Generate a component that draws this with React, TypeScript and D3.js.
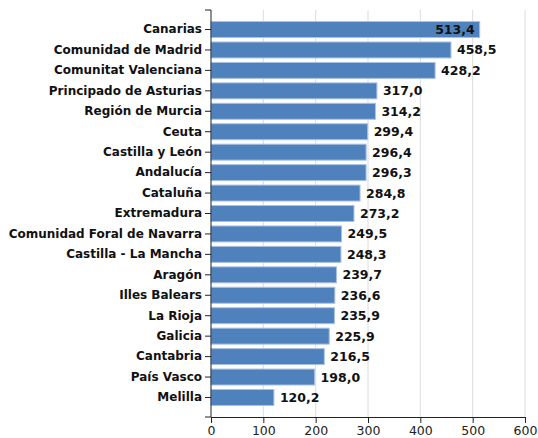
import React, {useEffect, useRef} from "react";
import * as d3 from "d3";

const regions = [
    "Canarias", "Comunidad de Madrid", "Comunitat Valenciana", "Principado de Asturias",
    "Región de Murcia", "Ceuta", "Castilla y León", "Andalucía", "Cataluña", "Extremadura",
    "Comunidad Foral de Navarra", "Castilla - La Mancha", "Aragón", "Illes Balears",
    "La Rioja", "Galicia", "Cantabria", "País Vasco", "Melilla"
];
const values = [
    513.4, 458.5, 428.2, 317.0, 314.2, 299.4, 296.4, 296.3, 284.8, 273.2,
    249.5, 248.3, 239.7, 236.6, 235.9, 225.9, 216.5, 198.0, 120.2
];
const xTicks = [0, 100, 200, 300, 400, 500, 600];

const App: React.FC = () => {
    const divRef = useRef<HTMLDivElement | null>(null);

    useEffect(() => {
        if (!divRef.current) return;
        const div = d3.select(divRef.current);
        div.selectAll("*").remove();

        const W = 538, H = 438;
        const left = 211, right = 525, top = 10, bottom = 417;
        const font = "Tahoma, 'DejaVu Sans', sans-serif";

        const svg = div.append("svg")
            .attr("width", W)
            .attr("height", H)
            .style("display", "block")
            .style("font-family", font);

        const x = d3.scaleLinear().domain([0, 600]).range([left, right]);
        const y = d3.scaleBand<string>()
            .domain(regions)
            .range([top, bottom])
            .paddingInner(0.22)
            .paddingOuter(0.565);

        // gridlines
        svg.append("g")
            .selectAll("line")
            .data(xTicks.filter(t => t > 0))
            .enter()
            .append("line")
            .attr("x1", d => x(d)).attr("x2", d => x(d))
            .attr("y1", top).attr("y2", bottom)
            .attr("stroke", "#dcdcdc")
            .attr("stroke-width", 1);

        const data = regions.map((r, i) => ({name: r, value: values[i]}));
        const fmt = d3.formatLocale({decimal: ",", thousands: ".", grouping: [3], currency: ["", "€"]}).format(".1f");
        // labels that would run past the plot go inside the bar
        const inside = (v: number) => x(v) + 46 > right;

        // bars
        svg.append("g")
            .selectAll("rect")
            .data(data)
            .enter()
            .append("rect")
            .attr("x", x(0))
            .attr("y", d => y(d.name)!)
            .attr("width", d => x(d.value) - x(0))
            .attr("height", y.bandwidth())
            .attr("fill", "#4f81bd")
            .attr("stroke", "#a9c1e3")
            .attr("stroke-width", 1);

        // value labels
        svg.append("g")
            .selectAll("text")
            .data(data)
            .enter()
            .append("text")
            .attr("x", d => inside(d.value) ? x(d.value) - 5 : x(d.value) + 6)
            .attr("y", d => y(d.name)! + y.bandwidth() / 2)
            .attr("dy", "0.36em")
            .attr("text-anchor", d => inside(d.value) ? "end" : "start")
            .attr("font-size", 12.5)
            .attr("font-weight", "bold")
            .attr("fill", "#111")
            .text(d => fmt(d.value));

        // y axis
        const yAxis = svg.append("g")
            .attr("transform", `translate(${left},0)`)
            .call(d3.axisLeft(y).tickSize(6).tickSizeOuter(0).tickPadding(3));
        yAxis.select(".domain").remove();
        yAxis.selectAll("line").attr("stroke", "#222");
        yAxis.selectAll("text")
            .attr("font-family", font)
            .attr("font-size", 12)
            .attr("font-weight", "bold")
            .attr("fill", "#111");
        svg.append("path")
            .attr("d", `M${left - 6},${top}H${left}V${bottom}H${left - 6}`)
            .attr("fill", "none")
            .attr("stroke", "#222");

        // x axis
        const xAxis = svg.append("g")
            .attr("transform", `translate(0,${bottom})`)
            .call(d3.axisBottom(x).tickValues(xTicks).tickSize(6).tickSizeOuter(0).tickPadding(3));
        xAxis.select(".domain").attr("stroke", "#222");
        xAxis.selectAll("line").attr("stroke", "#222");
        xAxis.selectAll("text")
            .attr("font-family", font)
            .attr("font-size", 12.5)
            .attr("fill", "#222");
    }, []);

    return <div ref={divRef} style={{position: "absolute", left: 0, top: 0}}/>;
};

export default App;
